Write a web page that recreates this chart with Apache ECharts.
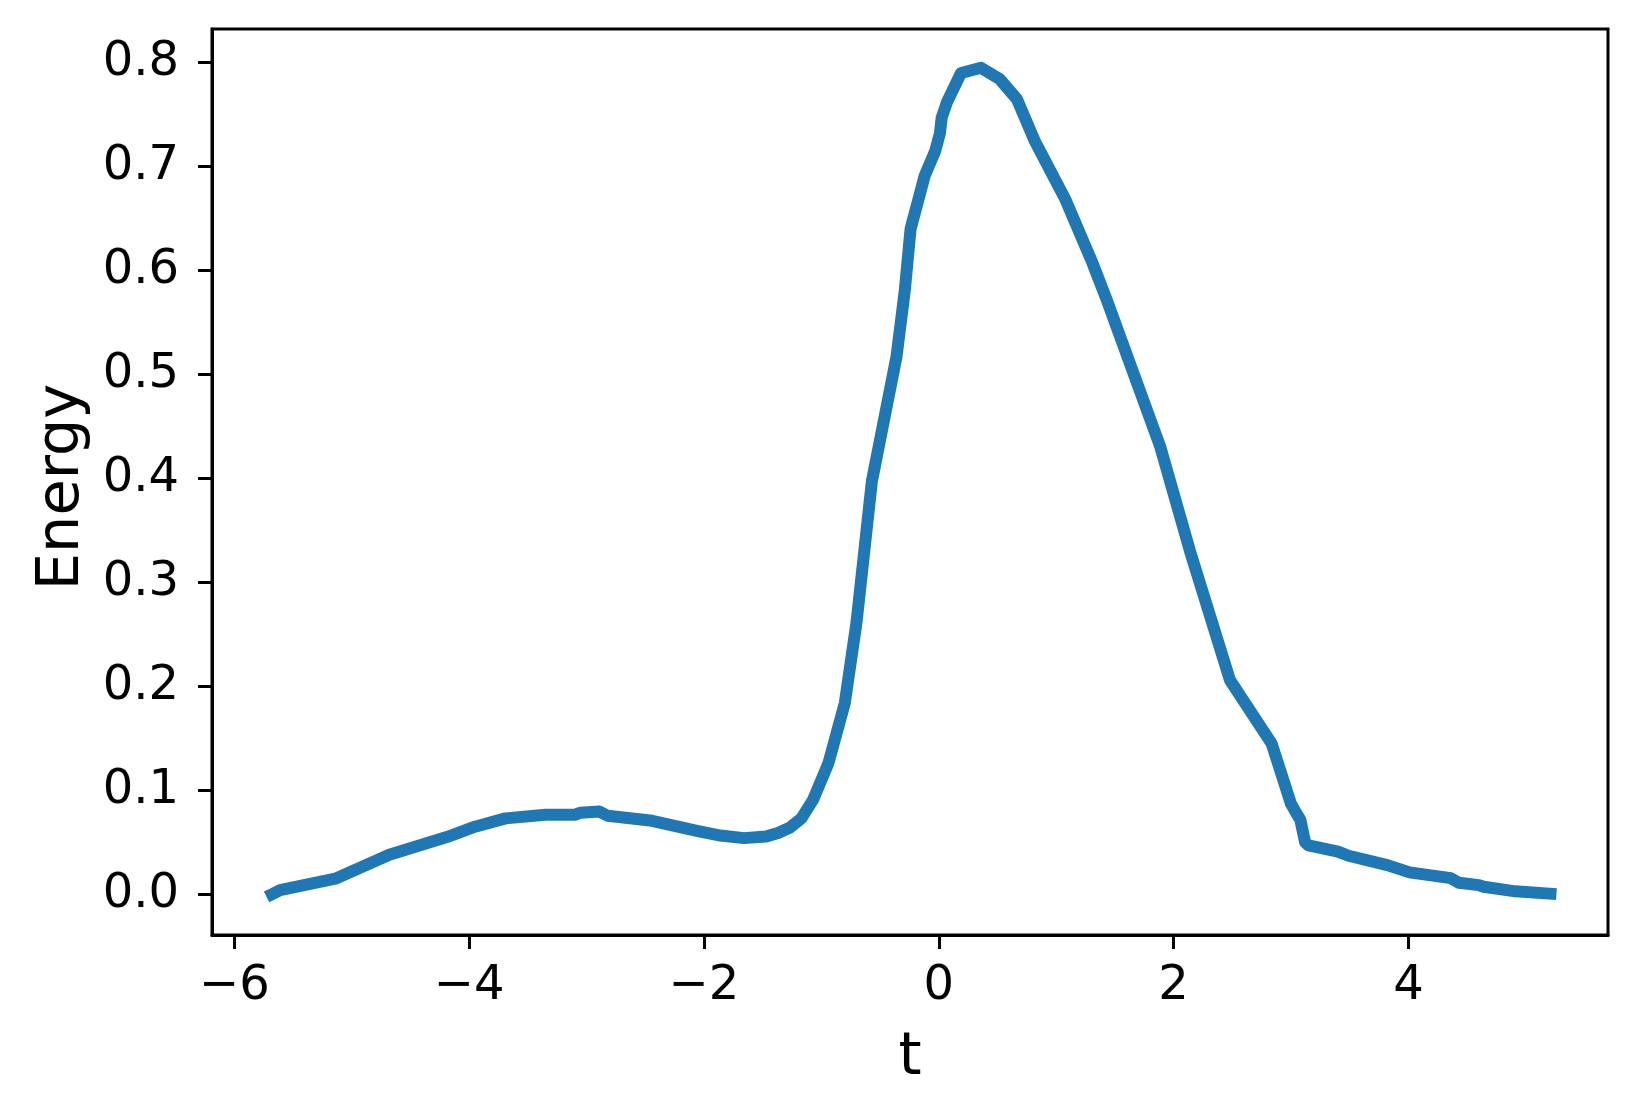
<!DOCTYPE html>
<html>
<head>
<meta charset="utf-8">
<title>Energy vs t</title>
<script src="https://cdn.jsdelivr.net/npm/echarts@6/dist/echarts.min.js"></script>
<style>
  html, body { margin: 0; padding: 0; background: #fff; }
  #chart { width: 1637px; height: 1116px; }
</style>
</head>
<body>
<div id="chart"></div>
<script>
// values
const tValues = [
  -5.68, -5.61, -5.14, -4.68, -4.19, -3.95, -3.69, -3.35, -3.10, -3.05,
  -2.89, -2.82, -2.46, -2.06, -1.86, -1.66, -1.47, -1.37, -1.27, -1.17,
  -1.07, -0.94, -0.80, -0.70, -0.57, -0.36, -0.29, -0.24, -0.12, -0.03, 0.01,
  0.025, 0.07, 0.19, 0.36, 0.52, 0.665, 0.82, 1.08, 1.31, 1.43,
  1.885, 2.14, 2.48, 2.835, 3.00, 3.04, 3.08, 3.12, 3.15, 3.40,
  3.49, 3.82, 4.01, 4.36, 4.43, 4.60, 4.64, 4.91, 5.21
];
const energyValues = [
  0.000, 0.004, 0.015, 0.038, 0.055, 0.065, 0.073, 0.0765, 0.0765, 0.0785,
  0.0795, 0.0755, 0.071, 0.061, 0.0565, 0.054, 0.0555, 0.059, 0.064, 0.073,
  0.091, 0.126, 0.184, 0.262, 0.397, 0.517, 0.580, 0.640, 0.691, 0.715, 0.732,
  0.747, 0.762, 0.790, 0.795, 0.784, 0.765, 0.724, 0.668, 0.607, 0.572,
  0.431, 0.330, 0.206, 0.145, 0.087, 0.079, 0.0715, 0.050, 0.047, 0.041,
  0.037, 0.028, 0.021, 0.0155, 0.011, 0.0088, 0.0072, 0.0028, 0.0005
];
const xTicks = [-6, -4, -2, 0, 2, 4];
const yTicks = [0, 0.1, 0.2, 0.3, 0.4, 0.5, 0.6, 0.7, 0.8];

const font = 'DejaVu Sans';
const chart = echarts.init(document.getElementById('chart'));

const option = {
  animation: false,
  backgroundColor: '#fff',
  grid: {
    left: 212, right: 29, top: 29, bottom: 181,
    show: true, borderColor: '#000', borderWidth: 3,
    outerBoundsMode: 'none'
  },
  xAxis: {
    type: 'value',
    min: -6.19, max: 5.70,
    name: 't', nameLocation: 'middle', nameGap: 94,
    nameTextStyle: { fontFamily: font, fontSize: 59, color: '#000' },
    splitLine: { show: false },
    axisLine: { show: true, onZero: false, lineStyle: { color: '#000', width: 3 } },
    axisTick: { show: true, inside: false, length: 14, lineStyle: { color: '#000', width: 3 }, customValues: xTicks },
    axisLabel: {
      fontFamily: font, fontSize: 48, color: '#000', margin: 28,
      customValues: xTicks,
      formatter: v => String(v).replace('-', '\u2212')
    }
  },
  yAxis: {
    type: 'value',
    min: -0.0392, max: 0.8323,
    name: 'Energy', nameLocation: 'middle', nameGap: 118,
    nameTextStyle: { fontFamily: font, fontSize: 59, color: '#000', padding: [0, 10, 0, 0] },
    splitLine: { show: false },
    axisLine: { show: true, onZero: false, lineStyle: { color: '#000', width: 3 } },
    axisTick: { show: true, inside: false, length: 14, lineStyle: { color: '#000', width: 3 }, customValues: yTicks },
    axisLabel: {
      fontFamily: font, fontSize: 48, color: '#000', margin: 33,
      padding: [10, 0, 0, 0],
      customValues: yTicks,
      formatter: v => v.toFixed(1)
    }
  },
  series: [{
    type: 'line',
    data: tValues.map((t, i) => [t, energyValues[i]]),
    showSymbol: false,
    lineStyle: { color: '#1f77b4', width: 12, cap: 'square', join: 'round' },
    z: 1
  }]
};

chart.setOption(option);
</script>
</body>
</html>
